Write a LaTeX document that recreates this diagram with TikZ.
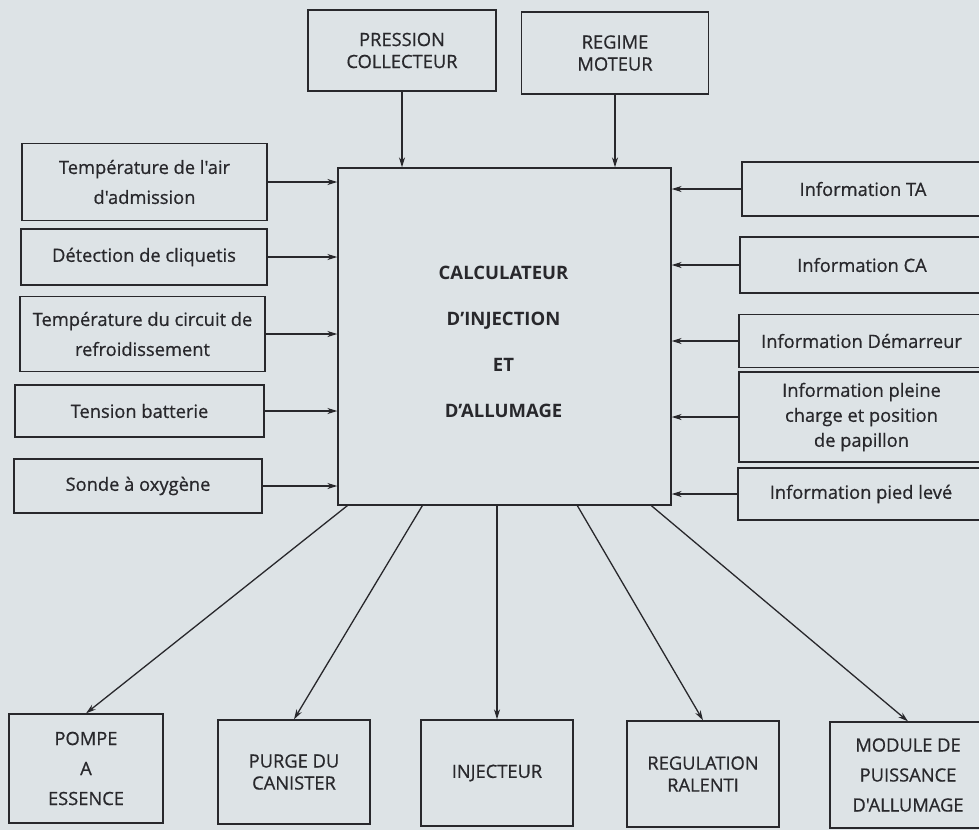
\documentclass[tikz,border=0pt]{standalone}
\usepackage{fontspec}
\setmainfont{Open Sans}
\newfontfamily\inkfont{Open Sans}[FakeBold=0.7]
\usetikzlibrary{arrows.meta,calc}
\definecolor{bg}{RGB}{221,227,230}
\definecolor{ink}{RGB}{40,40,44}
\begin{document}
\begin{tikzpicture}[x=1pt,y=-1pt,
  box/.style={draw=ink,line width=1.3pt,rectangle,inner sep=0pt,align=center,text=ink,
    font=\inkfont\fontsize{18.3}{22}\selectfont},
  arr/.style={draw=ink,line width=1.3pt,-{Stealth[length=10pt,width=6pt]}}]
\fill[bg] (0,0) rectangle (979,830);
\useasboundingbox (0,0) rectangle (979,830);
\clip (0,0) rectangle (979,830);
% top
\node[box,minimum width=188,minimum height=81] (pc) at (402,50.5) {PRESSION\\COLLECTEUR};
\node[box,minimum width=187,minimum height=82] (rm) at (615,53) {REGIME\\MOTEUR};
% main
\node[box,minimum width=333,minimum height=337] (main) at (504.5,336.5) {};
\node[text=ink,align=center,inner sep=0pt,font=\fontsize{18.5}{22}\selectfont\bfseries] (maintext) at (503.5,341.5)
  {CALCULATEUR\\[24pt]D'INJECTION\\[24pt]ET\\[24pt]D'ALLUMAGE};
% left
\node[box,minimum width=245,minimum height=77] (ta) at (144.5,182) {Température de l'air\\[8pt]d'admission};
\node[box,minimum width=246,minimum height=56] (det) at (144,257) {Détection de cliquetis};
\node[box,minimum width=245,minimum height=75] (tc) at (142.5,334) {Température du circuit de\\[8pt]refroidissement};
\node[box,minimum width=249,minimum height=52] (tb) at (139.5,411) {Tension batterie};
\node[box,minimum width=248,minimum height=54] (so) at (138,486) {Sonde à oxygène};
% right
\node[box,minimum width=242,minimum height=54] (ita) at (863,189) {Information TA};
\node[box,minimum width=244,minimum height=56] (ica) at (862,265) {Information CA};
\node[box,minimum width=245,minimum height=53] (idm) at (861.5,341) {Information Démarreur};
\node[box,minimum width=245,minimum height=90] (ipc) at (861.5,417) {Information pleine\\[3pt]charge et position\\[3pt]de papillon};
\node[box,minimum width=246,minimum height=52] (ipl) at (861,494) {Information pied levé};
% bottom
\node[box,minimum width=154,minimum height=109] (pompe) at (86,768.5) {POMPE\\[8pt]A\\[8pt]ESSENCE};
\node[box,minimum width=152,minimum height=104] (purge) at (294,772) {PURGE DU\\CANISTER};
\node[box,minimum width=152,minimum height=106] (inj) at (497,773) {INJECTEUR};
\node[box,minimum width=152,minimum height=106] (reg) at (703,774) {REGULATION\\RALENTI};
\node[box,minimum width=156,minimum height=106] (mod) at (908,775) {MODULE DE\\[8pt]PUISSANCE\\[8pt]D'ALLUMAGE};
% arrows in
\draw[arr] (pc.south) -- (pc.south |- main.north);
\draw[arr] (rm.south) -- (rm.south |- main.north);
\foreach \n in {ta,det,tc,tb,so}{\draw[arr] (\n.east) -- (\n.east -| main.west);}
\foreach \n in {ita,ica,idm,ipc,ipl}{\draw[arr] (\n.west) -- (\n.west -| main.east);}
% arrows out
\draw[arr] ($(main.south west)+(10,0)$) -- (pompe.north);
\draw[arr] ($(main.south west)+(85,0)$) -- (purge.north);
\draw[arr] (inj.north |- main.south) -- (inj.north);
\draw[arr] ($(main.south west)+(240,0)$) -- (reg.north);
\draw[arr] ($(main.south west)+(314,0)$) -- (mod.north);
\end{tikzpicture}
\end{document}
